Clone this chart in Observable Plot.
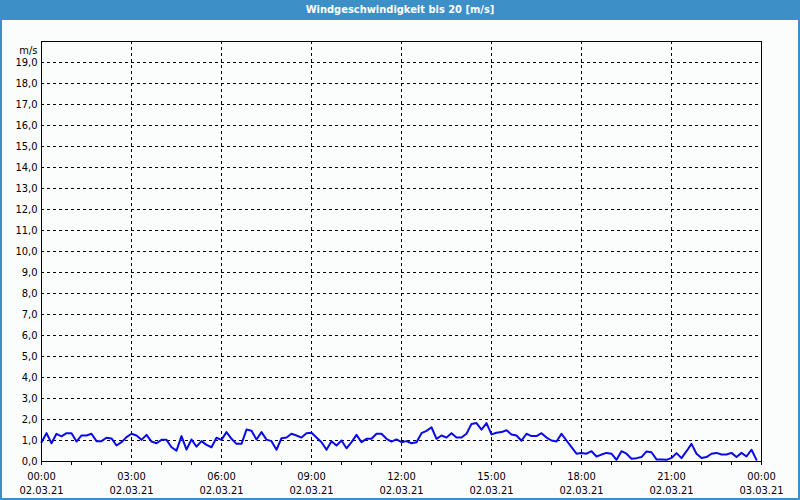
<!DOCTYPE html>
<html>
<head>
<meta charset="utf-8">
<script src="https://cdn.jsdelivr.net/npm/d3@7"></script>
<script src="https://cdn.jsdelivr.net/npm/@observablehq/plot@0.6"></script>
<style>
  html, body { margin: 0; padding: 0; background: #fff; }
  #wrap { position: relative; width: 800px; height: 500px; background: #fbfdfc; overflow: hidden; }
  #title { position: absolute; left: 0; top: 0; width: 800px; height: 20px; background: #3d8fc7; color: #fff;
    font: bold 11px "DejaVu Sans Condensed", "DejaVu Sans", sans-serif; text-align: center; line-height: 20px; }
  #chart { position: absolute; left: 0; top: 20px; }
  #border { position: absolute; left: 0; top: 0; width: 800px; height: 500px; box-sizing: border-box;
    border: 2px solid #3d8fc7; border-top: none; pointer-events: none; }
</style>
</head>
<body>
<div id="wrap">
  <div id="title">Windgeschwindigkeit bis 20 [m/s]</div>
  <div id="chart"></div>
  <div id="border"></div>
</div>
<script>
// Data: wind speed (m/s), one sample every 10 minutes starting 02.03.21 00:00
const startTime = new Date(2021, 2, 2, 0, 0);
const endTime = new Date(2021, 2, 3, 0, 0);
const stepMinutes = 10;
const windSpeed = [
  0.92, 1.35, 0.87, 1.32, 1.20, 1.35, 1.35, 0.95, 1.24, 1.24,
  1.32, 0.97, 0.97, 1.13, 1.10, 0.76, 0.92, 1.16, 1.32, 1.24,
  1.03, 1.27, 0.95, 0.87, 1.03, 1.03, 0.68, 0.52, 1.21, 0.57,
  1.05, 0.71, 0.97, 0.79, 0.68, 1.13, 1.03, 1.40, 1.08, 0.84,
  0.84, 1.52, 1.46, 1.05, 1.40, 1.04,
  0.97, 0.56, 1.11, 1.14, 1.32, 1.24, 1.14, 1.35, 1.37, 1.14,
  0.92, 0.56, 0.97, 0.76, 1.00, 0.63, 0.92, 1.27, 0.92, 1.08,
  1.08, 1.32, 1.32, 1.08, 0.95, 1.05, 0.92, 0.97, 0.87, 0.92,
  1.35, 1.46, 1.63, 1.08, 1.24, 1.14, 1.35, 1.14, 1.14, 1.32,
  1.79, 1.83, 1.52, 1.83, 1.29, 1.37, 1.40, 1.49, 1.29, 1.24,
  0.99, 1.32, 1.21, 1.21, 1.35, 1.14, 1.00, 0.95, 1.32, 1.00,
  0.68, 0.37, 0.41, 0.37, 0.49, 0.24, 0.33, 0.41, 0.37, 0.08,
  0.49, 0.37, 0.13, 0.16, 0.21, 0.48, 0.44, 0.10, 0.10, 0.08,
  0.17, 0.40, 0.16, 0.49, 0.84, 0.37, 0.17, 0.21, 0.37, 0.41,
  0.33, 0.33, 0.41, 0.21, 0.41, 0.24, 0.56, 0.08
];
const yTicks = d3.range(0, 20);           // 0,0 ... 19,0
const yGrid = d3.range(1, 20);
const majorHours = d3.range(0, 25, 3);     // labelled ticks every 3 h
const unitLabel = "m/s";

const series = windSpeed.map((v, i) => ({
  time: new Date(startTime.getTime() + i * stepMinutes * 60000),
  value: v
}));
const majorTicks = majorHours.map(h => new Date(startTime.getTime() + h * 3600000));
const innerGrid = majorTicks.slice(1, -1);
const hourTicks = d3.timeHour.range(startTime, d3.timeHour.offset(endTime, 1));

const fmtTime = d3.timeFormat("%H:%M");
const fmtDate = d3.timeFormat("%d.%m.%y");
const fmtY = d => d.toFixed(1).replace(".", ",");

const chart = Plot.plot({
  width: 800,
  height: 480,
  marginLeft: 41,
  marginRight: 39,
  marginTop: 21,
  marginBottom: 39,
  style: {
    fontFamily: '"DejaVu Sans Condensed", "DejaVu Sans", sans-serif',
    fontSize: "11px",
    background: "transparent",
    color: "black"
  },
  x: { type: "time", domain: [startTime, endTime] },
  y: { domain: [0, 20] },
  marks: [
    Plot.gridY(yGrid, { stroke: "black", strokeOpacity: 1, strokeDasharray: "3,3" }),
    Plot.gridX(innerGrid, { stroke: "black", strokeOpacity: 1, strokeDasharray: "3,3" }),
    Plot.axisY(yTicks, { tickSize: 0, tickPadding: 4, tickFormat: fmtY, label: null }),
    Plot.axisX(hourTicks, { tickSize: 4, tickFormat: () => "", label: null }),
    Plot.axisX(majorTicks, {
      tickSize: 0, tickPadding: 8, label: null, lineHeight: 1.3,
      tickFormat: d => fmtTime(d) + "\n" + fmtDate(d)
    }),
    Plot.line(series, { x: "time", y: "value", stroke: "#0a0ae8", strokeWidth: 2 }),
    Plot.frame({ stroke: "black" }),
    Plot.text([unitLabel], { frameAnchor: "top-left", textAnchor: "end", dx: -4, dy: 5, text: d => d })
  ]
});
document.getElementById("chart").appendChild(chart);
</script>
</body>
</html>
